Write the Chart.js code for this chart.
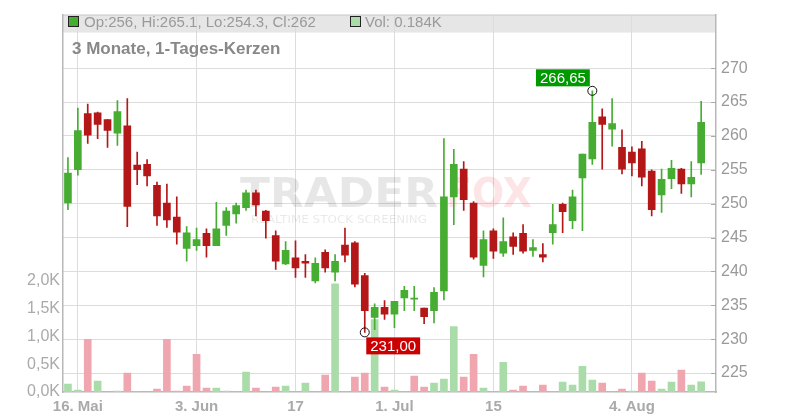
<!DOCTYPE html>
<html>
<head>
<meta charset="utf-8">
<script src="https://cdn.jsdelivr.net/npm/chart.js@4"></script>
<style>
  html, body { margin: 0; padding: 0; background: #fff; }
  #wrap { width: 800px; height: 420px; }
</style>
</head>
<body>
<div id="wrap"><canvas id="chart" width="800" height="420"></canvas></div>
<script>
// --- Daten ---
const dates = [
  '2025-05-15','2025-05-16','2025-05-19','2025-05-20','2025-05-21','2025-05-22','2025-05-23','2025-05-26','2025-05-27','2025-05-28','2025-05-29','2025-05-30',
  '2025-06-02','2025-06-03','2025-06-04','2025-06-05','2025-06-06','2025-06-09','2025-06-10','2025-06-11','2025-06-12','2025-06-13','2025-06-16','2025-06-17',
  '2025-06-18','2025-06-19','2025-06-20','2025-06-23','2025-06-24','2025-06-25','2025-06-26','2025-06-27','2025-06-30',
  '2025-07-01','2025-07-02','2025-07-03','2025-07-04','2025-07-07','2025-07-08','2025-07-09','2025-07-10','2025-07-11','2025-07-14','2025-07-15',
  '2025-07-16','2025-07-17','2025-07-18','2025-07-21','2025-07-22','2025-07-23','2025-07-24','2025-07-25','2025-07-28','2025-07-29','2025-07-30','2025-07-31',
  '2025-08-01','2025-08-04','2025-08-05','2025-08-06','2025-08-07','2025-08-08','2025-08-11','2025-08-12','2025-08-13','2025-08-14'
];

const xTickText = {
  '2025-05-16': '16. Mai',
  '2025-06-03': '3. Jun',
  '2025-06-17': '17',
  '2025-07-01': '1. Jul',
  '2025-07-15': '15',
  '2025-08-04': '4. Aug'
};

const openP = [
  250.1, 255.0, 263.3, 263.4, 262.4, 260.4, 261.5, 255.7, 255.8, 252.7,
  250.1, 248.0, 243.4, 243.8, 245.6, 243.8, 246.8, 248.5, 249.4, 251.6,
  248.9, 245.3, 241.1, 242.0, 241.5, 238.6, 242.8, 239.9, 243.9, 244.2,
  239.4, 233.2, 234.7, 233.7, 236.1, 235.9, 234.6, 234.2, 237.1, 251.0,
  255.1, 250.1, 240.9, 246.0, 242.7, 245.1, 245.6, 243.1, 242.5, 245.7,
  249.9, 247.5, 253.8, 256.6, 262.8, 261.0, 258.3, 257.6, 258.1, 254.8,
  251.3, 253.7, 255.1, 252.9, 256
];
const highP = [
  256.8, 264.1, 264.7, 263.5, 262.4, 265.2, 265.5, 257.6, 256.5, 253.2,
  252.9, 251.0, 246.6, 246.4, 246.3, 250.2, 249.4, 250.1, 252.0, 252.0,
  249.0, 246.0, 244.4, 244.5, 242.5, 242.0, 243.2, 242.5, 246.4, 244.4,
  239.7, 235.2, 235.7, 235.6, 237.8, 237.8, 234.6, 237.6, 259.6, 258.0,
  256.2, 250.3, 246.0, 246.3, 247.9, 245.7, 246.9, 244.7, 244.1, 249.9,
  250.1, 252.0, 257.3, 266.65, 264.0, 265.5, 260.9, 258.4, 259.2, 255.0,
  255.1, 256.4, 255.2, 256.2, 265.1
];
const lowP = [
  249.1, 254.2, 258.9, 259.6, 258.3, 258.6, 246.6, 252.8, 252.6, 246.8,
  246.5, 244.0, 241.5, 243.1, 242.1, 243.8, 245.3, 247.1, 249.0, 248.2,
  244.9, 240.3, 241.0, 239.1, 239.1, 238.3, 239.9, 238.6, 241.4, 237.7,
  231.0, 231.4, 232.9, 231.7, 234.2, 234.2, 232.3, 232.4, 235.8, 246.9,
  249.0, 241.8, 239.2, 241.9, 242.2, 242.5, 242.7, 242.2, 241.4, 244.0,
  245.7, 246.3, 246.0, 255.8, 255.1, 258.5, 254.4, 254.1, 252.6, 248.2,
  248.7, 252.2, 251.5, 251.0, 254.3
];
const closeP = [
  254.5, 260.8, 260.1, 261.7, 260.8, 263.6, 249.6, 255.0, 254.1, 248.2,
  247.6, 245.8, 245.7, 244.7, 243.8, 246.3, 248.9, 249.7, 251.6, 249.8,
  247.5, 241.5, 243.1, 240.5, 241.2, 241.2, 240.5, 241.5, 242.4, 238.1,
  234.2, 234.7, 233.7, 235.6, 237.2, 236.0, 233.3, 236.9, 251.0, 255.8,
  250.6, 242.1, 244.7, 243.0, 244.4, 243.7, 243.0, 243.5, 242.1, 246.9,
  248.8, 251.0, 257.3, 262.0, 261.7, 261.8, 255.1, 256.0, 253.9, 249.1,
  253.6, 255.2, 252.9, 253.9, 262
];
// Volumen in Tausend
const volK = [
  0.143, 0.036, 0.946, 0.196, 0, 0.018, 0.339, 0, 0, 0.054,
  0.946, 0.018, 0.107, 0.679, 0.071, 0.071, 0.018, 0, 0.357, 0.071,
  0, 0.089, 0.107, 0, 0.161, 0, 0.304, 1.946, 0, 0.268,
  0.339, 1.304, 0.089, 0.036, 0, 0.286, 0.089, 0.161, 0.232, 1.179,
  0.268, 0.679, 0.071, 0, 0.536, 0.036, 0.107, 0, 0.125, 0,
  0.179, 0.125, 0.464, 0.214, 0.161, 0, 0.054, 0.018, 0.339, 0.196,
  0.054, 0.179, 0.393, 0.125, 0.184
];

const priceTicks = [225, 230, 235, 240, 245, 250, 255, 260, 265, 270];
const volTicks = [0, 0.5, 1.0, 1.5, 2.0];

// --- Farben ---
const UP = '#46ad32';
const DOWN = '#b31718';
const VOL_UP = '#aadcaa';
const VOL_DOWN = '#f0a6af';
const GRID = '#dcdcdc';
const AXIS = '#b8b8b8';
const FONT = '"Liberation Sans", Arial, sans-serif';

const candleColors = openP.map((o, i) => closeP[i] >= o ? UP : DOWN);
const volColors = closeP.map((c, i) => (i === 0 || c >= closeP[i - 1]) ? VOL_UP : VOL_DOWN);

const fmt = v => v.toFixed(2).replace('.', ',');

// --- Deko: Kopfzeile, Titel, Wasserzeichen, Hoch/Tief-Marken ---
const decoPlugin = {
  id: 'deco',
  beforeDraw(chart) {
    const { ctx, chartArea: a } = chart;
    ctx.save();
    ctx.fillStyle = '#e6e6e6';
    ctx.fillRect(a.left, a.top, a.right - a.left, 18);
    ctx.strokeStyle = '#cccccc';
    ctx.lineWidth = 1;
    ctx.beginPath();
    ctx.moveTo(a.left, a.top + 0.5);
    ctx.lineTo(a.right, a.top + 0.5);
    ctx.stroke();
    ctx.restore();
  },
  beforeDatasetsDraw(chart) {
    const { ctx, chartArea: a } = chart;
    ctx.save();
    const fitText = (txt, font, x, yBase, w, color) => {
      ctx.font = font;
      const m = ctx.measureText(txt).width;
      ctx.save();
      ctx.translate(x, yBase);
      ctx.scale(w / m, 1);
      ctx.fillStyle = color;
      ctx.fillText(txt, 0, 0);
      ctx.restore();
    };
    ctx.textBaseline = 'alphabetic';
    fitText('TRADER', 'bold 40px "DejaVu Sans"', 240, 207, 198, 'rgba(0,0,0,0.095)');
    fitText('FOX', 'bold 40px "DejaVu Sans"', 446, 207, 86, 'rgba(235,40,60,0.12)');
    fitText('REALTIME STOCK SCREENING', '10px "DejaVu Sans"', 251, 222.5, 176, 'rgba(0,0,0,0.09)');

    // kleine Tick-Striche innen an der rechten Achse
    const ys = chart.scales.y;
    ctx.strokeStyle = '#aaaaaa';
    ctx.lineWidth = 1;
    priceTicks.forEach(v => {
      const y = Math.round(ys.getPixelForValue(v)) + 0.5;
      ctx.beginPath();
      ctx.moveTo(a.right - 5, y);
      ctx.lineTo(a.right, y);
      ctx.stroke();
    });
    ctx.restore();
  },
  afterDatasetsDraw(chart) {
    const { ctx } = chart;
    const xs = chart.scales.x, ys = chart.scales.y;
    const last = openP.length - 1;
    ctx.save();

    // Kopfzeile
    ctx.textBaseline = 'alphabetic';
    ctx.font = '15px ' + FONT;
    ctx.fillStyle = UP;
    ctx.fillRect(68.5, 16.5, 10, 10);
    ctx.strokeStyle = '#222';
    ctx.lineWidth = 1;
    ctx.strokeRect(68.5, 16.5, 10, 10);
    ctx.fillStyle = '#999999';
    ctx.fillText(`Op:${openP[last]}, Hi:${highP[last]}, Lo:${lowP[last]}, Cl:${closeP[last]}`, 84, 26.5);

    ctx.fillStyle = VOL_UP;
    ctx.fillRect(350.5, 16.5, 10, 10);
    ctx.strokeRect(350.5, 16.5, 10, 10);
    ctx.fillStyle = '#999999';
    ctx.fillText(`Vol: ${volK[last].toFixed(3)}K`, 365, 26.5);

    // Titel
    ctx.font = 'bold 17px ' + FONT;
    ctx.fillStyle = '#888888';
    ctx.fillText('3 Monate, 1-Tages-Kerzen', 72, 54);

    // Hoch / Tief
    const hiIdx = highP.indexOf(Math.max(...highP));
    const loIdx = lowP.indexOf(Math.min(...lowP));
    const drawMark = (idx, val, bg, above) => {
      const cx = xs.getPixelForValue(idx);
      const cy = ys.getPixelForValue(val);
      ctx.beginPath();
      ctx.arc(cx, cy, 4.5, 0, Math.PI * 2);
      ctx.strokeStyle = '#111';
      ctx.lineWidth = 1;
      ctx.stroke();
      const txt = fmt(val);
      ctx.font = '15px ' + FONT;
      const w = ctx.measureText(txt).width + 8;
      const h = 17;
      const bx = above ? cx - 2.5 - w : cx + 1.5;
      const by = above ? cy - 21.5 : cy + 5;
      ctx.fillStyle = bg;
      ctx.fillRect(bx, by, w, h);
      ctx.fillStyle = '#ffffff';
      ctx.textAlign = 'center';
      ctx.textBaseline = 'middle';
      ctx.fillText(txt, bx + w / 2, by + h / 2 + 1);
      ctx.textAlign = 'left';
      ctx.textBaseline = 'alphabetic';
    };
    drawMark(hiIdx, highP[hiIdx], '#009a00', true);
    drawMark(loIdx, lowP[loIdx], '#cc0000', false);

    ctx.restore();
  }
};

const ctx = document.getElementById('chart').getContext('2d');
new Chart(ctx, {
  type: 'bar',
  data: {
    labels: dates,
    datasets: [
      {
        // Kerzenkörper
        data: openP.map((o, i) => [o, closeP[i]]),
        backgroundColor: candleColors,
        barThickness: 7,
        minBarLength: 1,
        grouped: false,
        yAxisID: 'y'
      },
      {
        // Dochte
        data: lowP.map((l, i) => [l, highP[i]]),
        backgroundColor: candleColors,
        barThickness: 1,
        grouped: false,
        yAxisID: 'y'
      },
      {
        // Volumen
        data: volK,
        backgroundColor: volColors,
        barThickness: 7,
        grouped: false,
        yAxisID: 'yv'
      }
    ]
  },
  options: {
    responsive: false,
    animation: false,
    layout: { padding: { top: 12, left: 0, right: 0, bottom: 0 } },
    plugins: {
      legend: { display: false },
      tooltip: { enabled: false }
    },
    scales: {
      x: {
        type: 'category',
        offset: true,
        afterBuildTicks: scale => {
          scale.ticks = scale.ticks.filter(t => xTickText[dates[t.value]]);
        },
        afterFit: scale => { scale.height = 28; },
        ticks: {
          autoSkip: false,
          maxRotation: 0,
          padding: 6,
          color: '#aaaaaa',
          font: { family: FONT, size: 15, weight: 'bold' },
          callback: function (value) { return xTickText[dates[value]] || ''; }
        },
        grid: { offset: false, color: GRID, lineWidth: 1, drawTicks: false },
        border: { display: true, color: AXIS, width: 1.5 }
      },
      y: {
        position: 'right',
        min: 222.2,
        max: 277.9,
        afterBuildTicks: scale => {
          scale.ticks = priceTicks.map(v => ({ value: v }));
        },
        afterFit: scale => { scale.width = 84; },
        ticks: {
          padding: 5,
          color: '#999999',
          font: { family: FONT, size: 16 },
          callback: v => String(v)
        },
        grid: { color: GRID, lineWidth: 1, drawTicks: false },
        border: { display: true, color: AXIS, width: 1.5 }
      },
      yv: {
        position: 'left',
        min: 0,
        max: 6.79,
        afterBuildTicks: scale => {
          scale.ticks = volTicks.map(v => ({ value: v }));
        },
        afterFit: scale => { scale.width = 63; },
        ticks: {
          padding: 3,
          color: '#aaaaaa',
          font: { family: FONT, size: 16 },
          callback: v => v.toFixed(1).replace('.', ',') + 'K'
        },
        grid: { display: false, drawTicks: false },
        border: { display: true, color: AXIS, width: 1.5 }
      }
    }
  },
  plugins: [decoPlugin]
});
</script>
</body>
</html>
